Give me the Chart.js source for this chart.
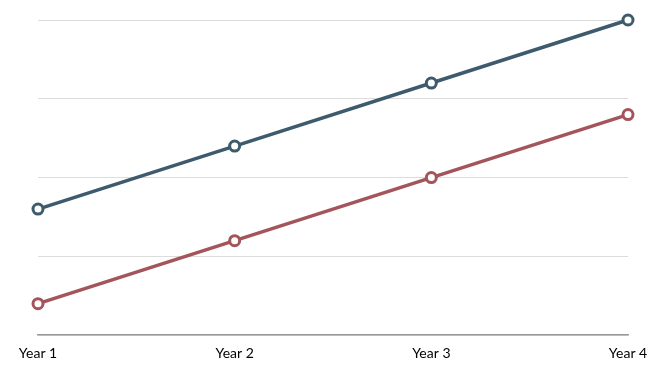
<!DOCTYPE html>
<html>
<head>
<meta charset="utf-8">
<script src="https://cdn.jsdelivr.net/npm/chart.js@4"></script>
<style>
  html, body { margin: 0; padding: 0; background: #fff; }
  #wrap { width: 667px; height: 372px; }
</style>
</head>
<body>
<div id="wrap"><canvas id="chart"></canvas></div>
<script>
// ---------------- DATA ----------------
const years = ["Year 1", "Year 2", "Year 3", "Year 4"];
const upperSeries = [1.6, 2.4, 3.2, 4.0];
const lowerSeries = [0.4, 1.2, 2.0, 2.8];

const blue = "#3e5a6d";
const red = "#a3555b";

new Chart(document.getElementById("chart"), {
    type: "line",
    data: {
        labels: years,
        datasets: [
            {
                data: upperSeries,
                borderColor: blue,
                borderWidth: 3.5,
                pointRadius: 5,
                pointBorderWidth: 3,
                pointBackgroundColor: "#fff",
                pointBorderColor: blue,
                clip: false
            },
            {
                data: lowerSeries,
                borderColor: red,
                borderWidth: 3.5,
                pointRadius: 5,
                pointBorderWidth: 3,
                pointBackgroundColor: "#fff",
                pointBorderColor: red,
                clip: false
            }
        ]
    },
    options: {
        responsive: true,
        maintainAspectRatio: false,
        animation: false,
        layout: { padding: { left: 38, right: 39, top: 20, bottom: 0 } },
        plugins: { legend: { display: false }, tooltip: { enabled: false } },
        scales: {
            x: {
                offset: false,
                grid: { display: false, drawTicks: false },
                border: { display: true, color: "#9a9a9a", width: 1.5 },
                ticks: {
                    color: "#000",
                    padding: 10,
                    maxRotation: 0,
                    font: { family: "Lato", size: 14 }
                }
            },
            y: {
                min: 0,
                max: 4,
                ticks: { display: false, stepSize: 1 },
                grid: { color: "#dcdcdc", drawTicks: false },
                border: { display: false }
            }
        }
    }
});
</script>
</body>
</html>
